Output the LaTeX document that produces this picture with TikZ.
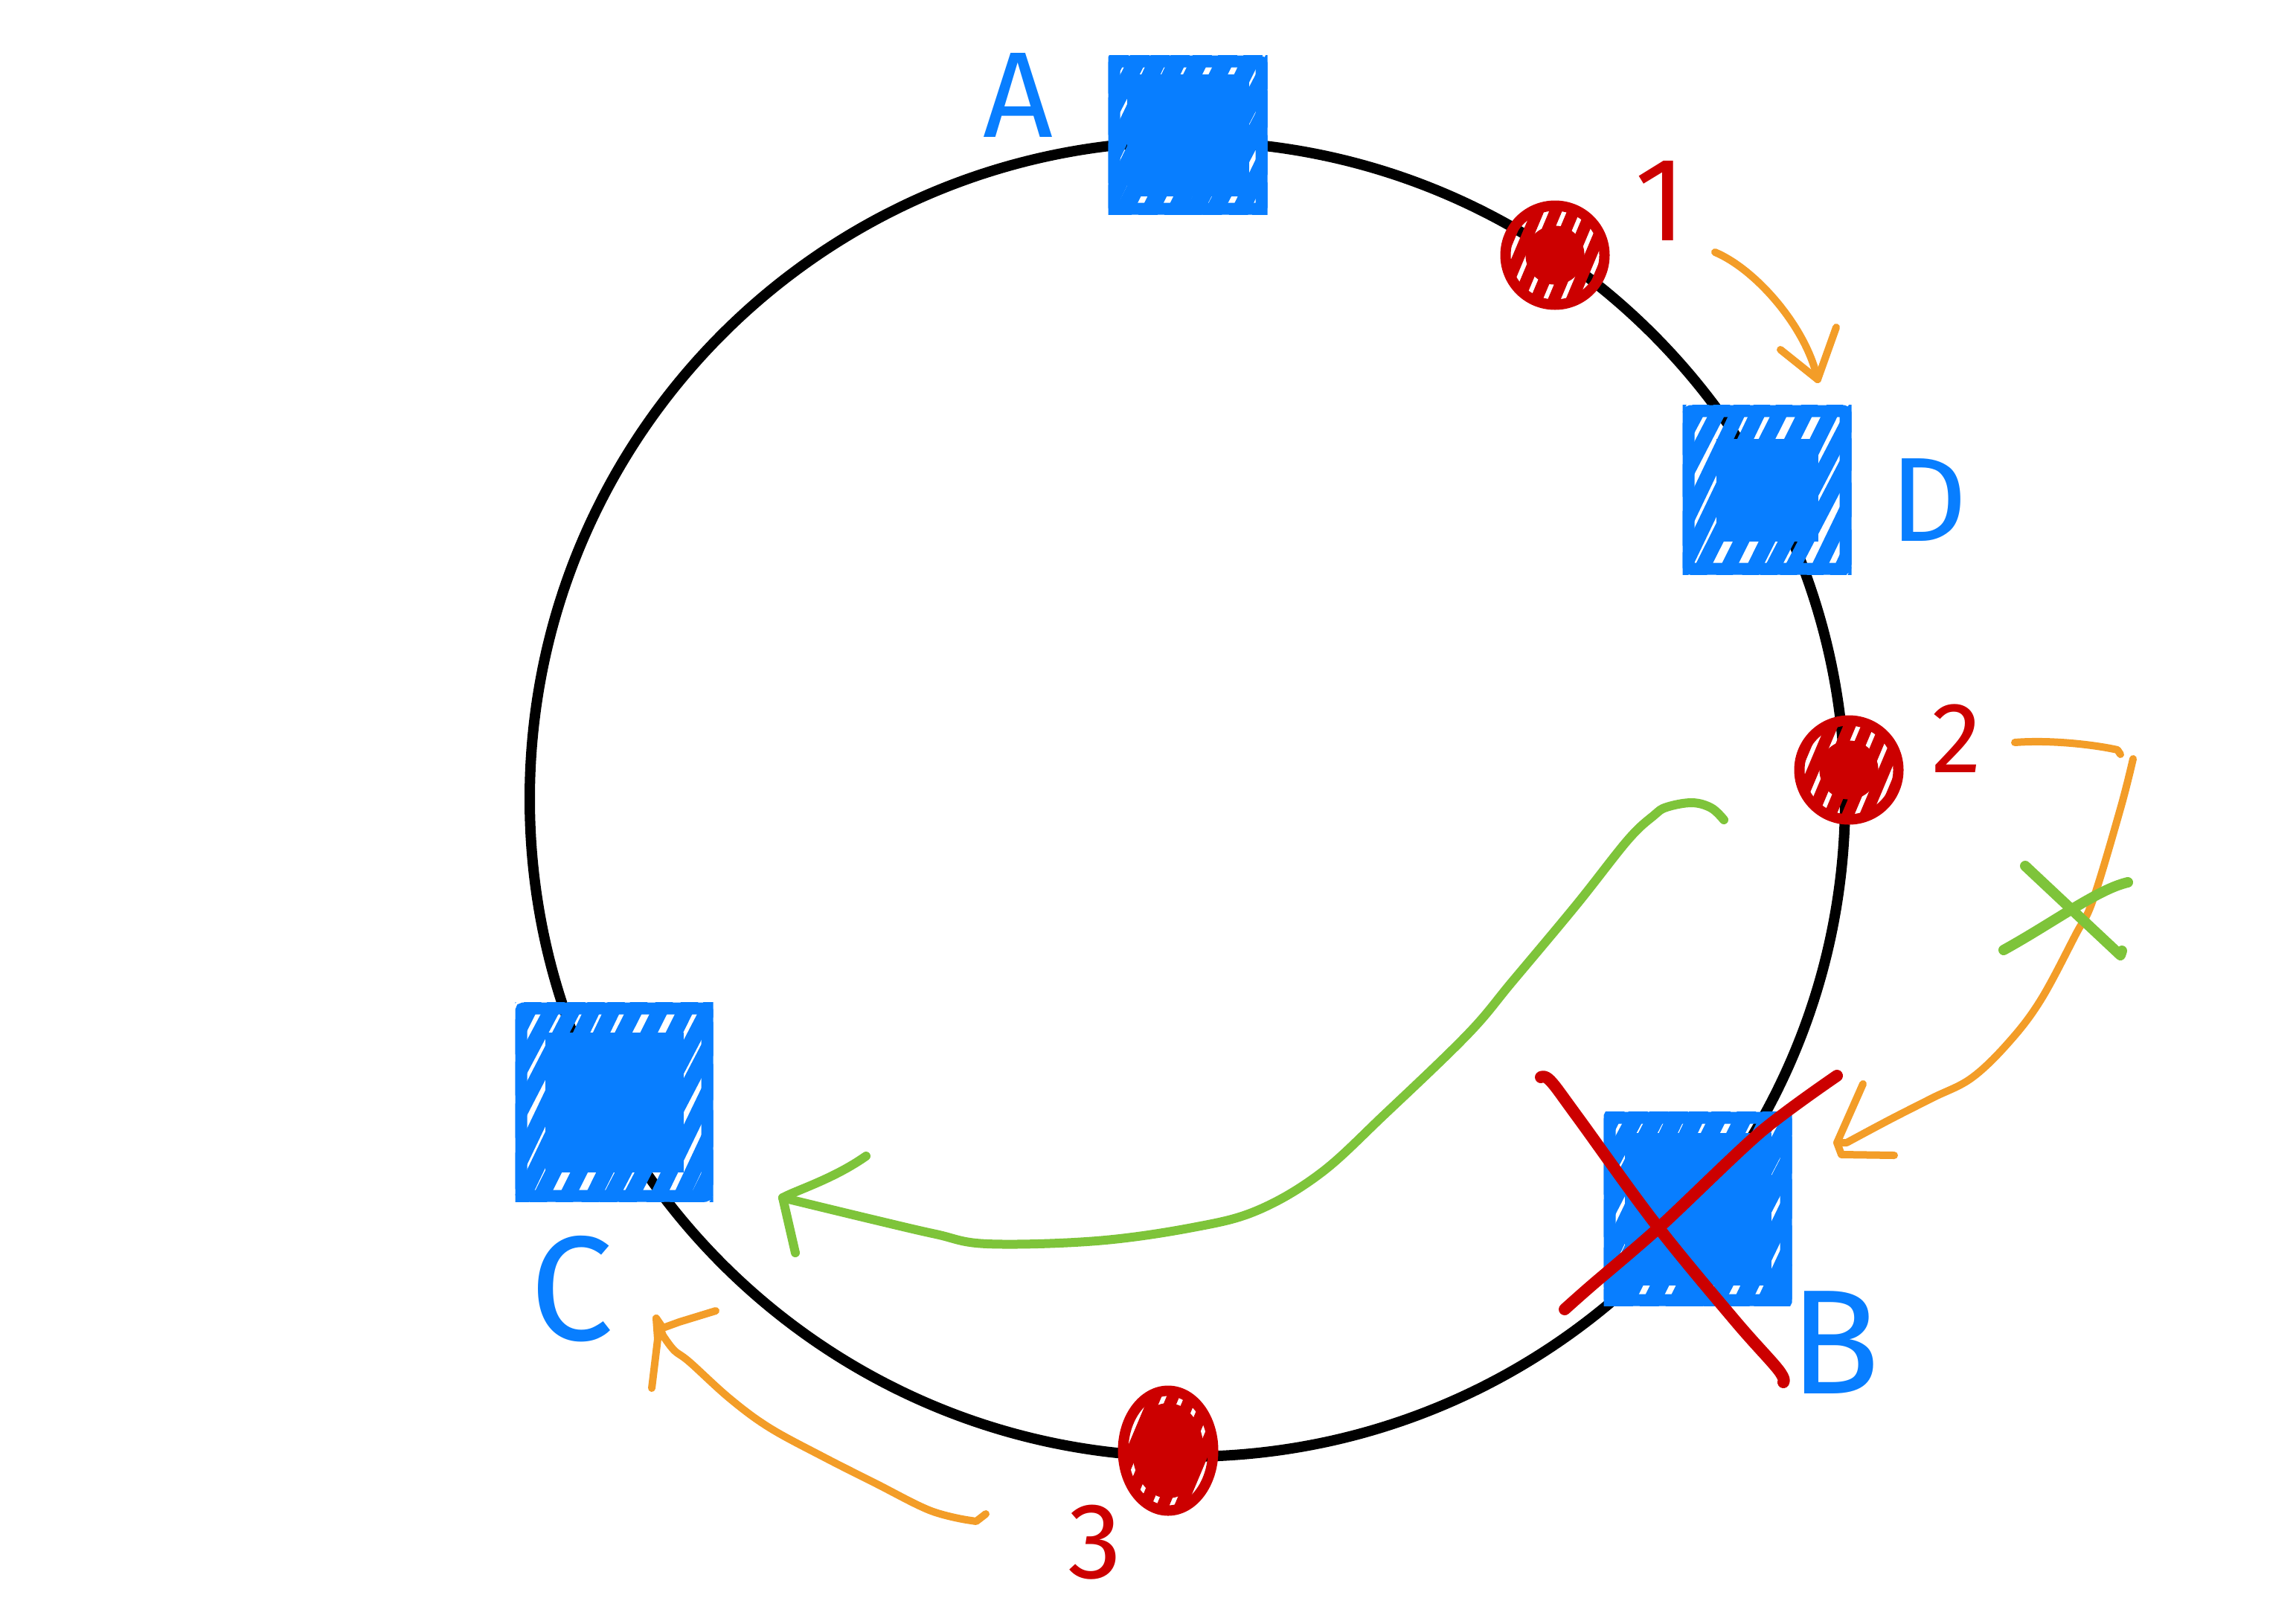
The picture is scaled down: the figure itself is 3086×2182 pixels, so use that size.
\documentclass[tikz,border=0pt]{standalone}
\usepackage{fontspec}
\setmainfont{Fira Sans}
\usetikzlibrary{calc,shapes.geometric}
\definecolor{pblue}{RGB}{8,126,255}
\definecolor{pred}{RGB}{204,0,0}
\definecolor{porange}{RGB}{243,157,40}
\definecolor{pgreen}{RGB}{126,196,58}
\newcommand\boxhatch[3]{%
  \begin{scope}
    \clip (#1.south west) rectangle (#1.north east);
    \fill[pblue] ($(#1.south west)+(#2,-#2)$) rectangle ($(#1.north east)+(-#2,#2)$);
    \foreach \i in {-10,...,10}
      \draw[pblue, line width=#3, line cap=round] ($(#1.center)+({\i*30-75+5*sin(\i*97)},150)$) -- ($(#1.center)+({\i*30+75+5*sin(\i*53)},-150)$);
  \end{scope}}
\newcommand\dothatch[4]{%
  \begin{scope}
    \clip (#1.center) ellipse [x radius=#2, y radius=#3];
    \fill[pred] (#1.center) ellipse [x radius=#2*#4, y radius=#3*#4];
    \foreach \i in {-4,...,4}
      \draw[pred, line width=16pt, line cap=round] ($(#1.center)+(\i*24-40,95)$) -- ($(#1.center)+(\i*24+40,-95)$);
  \end{scope}}
\begin{document}
\begin{tikzpicture}[x=1pt,y=-1pt,
  server/.style={draw=pblue, line width=16pt, rounded corners=3pt, inner sep=0pt},
  keydot/.style={draw=pred, line width=14pt, circle, inner sep=0pt, minimum size=133pt},
  lab/.style={inner sep=0pt, font=\fontsize{#1}{#1}\selectfont},
  oline/.style={draw=porange, line width=10pt, line cap=round, line join=round},
  gline/.style={draw=pgreen, line width=12pt, line cap=round, line join=round},
  rline/.style={draw=pred, line width=16pt, line cap=round, line join=round}]
\useasboundingbox[fill=white] (0,0) rectangle (3086,2182);

% ring
\node[draw, circle, line width=14pt, minimum size=1768pt, inner sep=0pt] (ring) at (1596,1074) {};

% servers
\node[server, minimum width=198pt, minimum height=198pt] (A) at (1596.5,181.5) {};
\node[server, minimum width=211pt, minimum height=212pt] (D) at (2375,658.5) {};
\node[server, minimum width=250pt, minimum height=252pt] (C) at (825.5,1481.5) {};
\node[server, minimum width=237pt, minimum height=245pt] (B) at (2282,1625) {};
\boxhatch{A}{25}{23pt}
\boxhatch{D}{45}{20pt}
\boxhatch{C}{40}{21pt}
\boxhatch{B}{28}{23pt}

% keys
\node[keydot] (k1) at (2090,343) {};
\node[keydot] (k2) at (2485,1035) {};
\node[draw=pred, line width=14pt, ellipse, inner sep=0pt, minimum width=121pt, minimum height=161pt] (k3) at (1570,1950) {};
\dothatch{k1}{66}{66}{0.6}
\dothatch{k2}{66}{66}{0.6}
\dothatch{k3}{60}{80}{0.8}

% labels
\node[lab=164, text=pblue] (lA) at (1368,128) {A};
\node[lab=161, text=pblue] (lD) at (2592,672) {D};
\node[lab=200, text=pblue] (lC) at (768,1733) {C};
\node[lab=200, text=pblue] (lB) at (2466,1805) {B};
\node[lab=160, text=pred] (l1) at (2232,270) {1};
\node[lab=135, text=pred] (l2) at (2630,993) {2};
\node[lab=145, text=pred] (l3) at (1472,2073) {3};

% orange arrow 1 -> D
\coordinate (o1s) at (2305,339);
\coordinate (o1t) at (2443,510);
\draw[oline] (o1s) .. controls (2360,362) and (2428,440) .. (o1t);
\draw[oline] (2393,470) -- (o1t) -- (2468,440);

% orange arrow 2 -> B
\coordinate (o2s) at (2708,998);
\coordinate (o2t) at (2469,1536);
\draw[oline] (o2s) .. controls (2760,994) and (2820,1002) .. (2846,1008) -- (2850,1014);
\draw[oline] plot[smooth, tension=0.6] coordinates {(2867,1020) (2850,1087) (2813,1210) (2790,1256) (2743,1344) (2700,1401) (2650,1449) (2597,1476) (2540,1505) (2482,1536)} -- (o2t);
\draw[oline] (2504,1457) -- (o2t) -- (2475,1552) -- (2546,1553);

% orange arrow 3 -> C
\coordinate (o3s) at (1325,2035);
\coordinate (o3t) at (882,1772);
\draw[oline] (o3s) -- (1312,2045) -- (1299,2043) plot[smooth, tension=0.6] coordinates {(1299,2043) (1249,2030) (1177,1994) (1106,1958) (1034,1919) (981,1880) (927,1831) (906,1815) (891,1795)} -- (o3t);
\draw[oline] (876,1866) -- (884,1800) -- (o3t) -- (891,1785) -- (913,1777) -- (962,1762);

% green arrow from 2 towards C
\coordinate (gs) at (2317,1102);
\coordinate (gt) at (1052,1610);
\draw[gline] (gs) plot[smooth, tension=0.6] coordinates {(2317,1102) (2300,1086) (2274,1079) (2240,1085) (2223,1096) (2188,1129) (2119,1216) (2033,1319) (1973,1390) (1861,1498) (1775,1577) (1690,1627) (1603,1650) (1474,1668) (1327,1672) (1258,1659) (1172,1639) (1052,1610)} -- (gt);
\draw[gline] (1164,1554) .. controls (1120,1585) and (1070,1600) .. (gt) -- (1069,1684);

% green cross on the orange path
\draw[gline, line width=14pt] (2722,1164) -- (2850,1284) -- (2852,1278);
\draw[gline, line width=14pt] (2693,1277) .. controls (2760,1240) and (2820,1195) .. (2860,1186);

% red cross over B
\draw[rline] plot[smooth, tension=0.6] coordinates {(2071,1448) (2084,1453) (2120,1501) (2225,1645) (2331,1774) (2390,1841) (2397,1858)};
\draw[rline] plot[smooth, tension=0.5] coordinates {(2469,1446) (2366,1522) (2232,1648) (2138,1729) (2103,1760)};
\end{tikzpicture}
\end{document}
